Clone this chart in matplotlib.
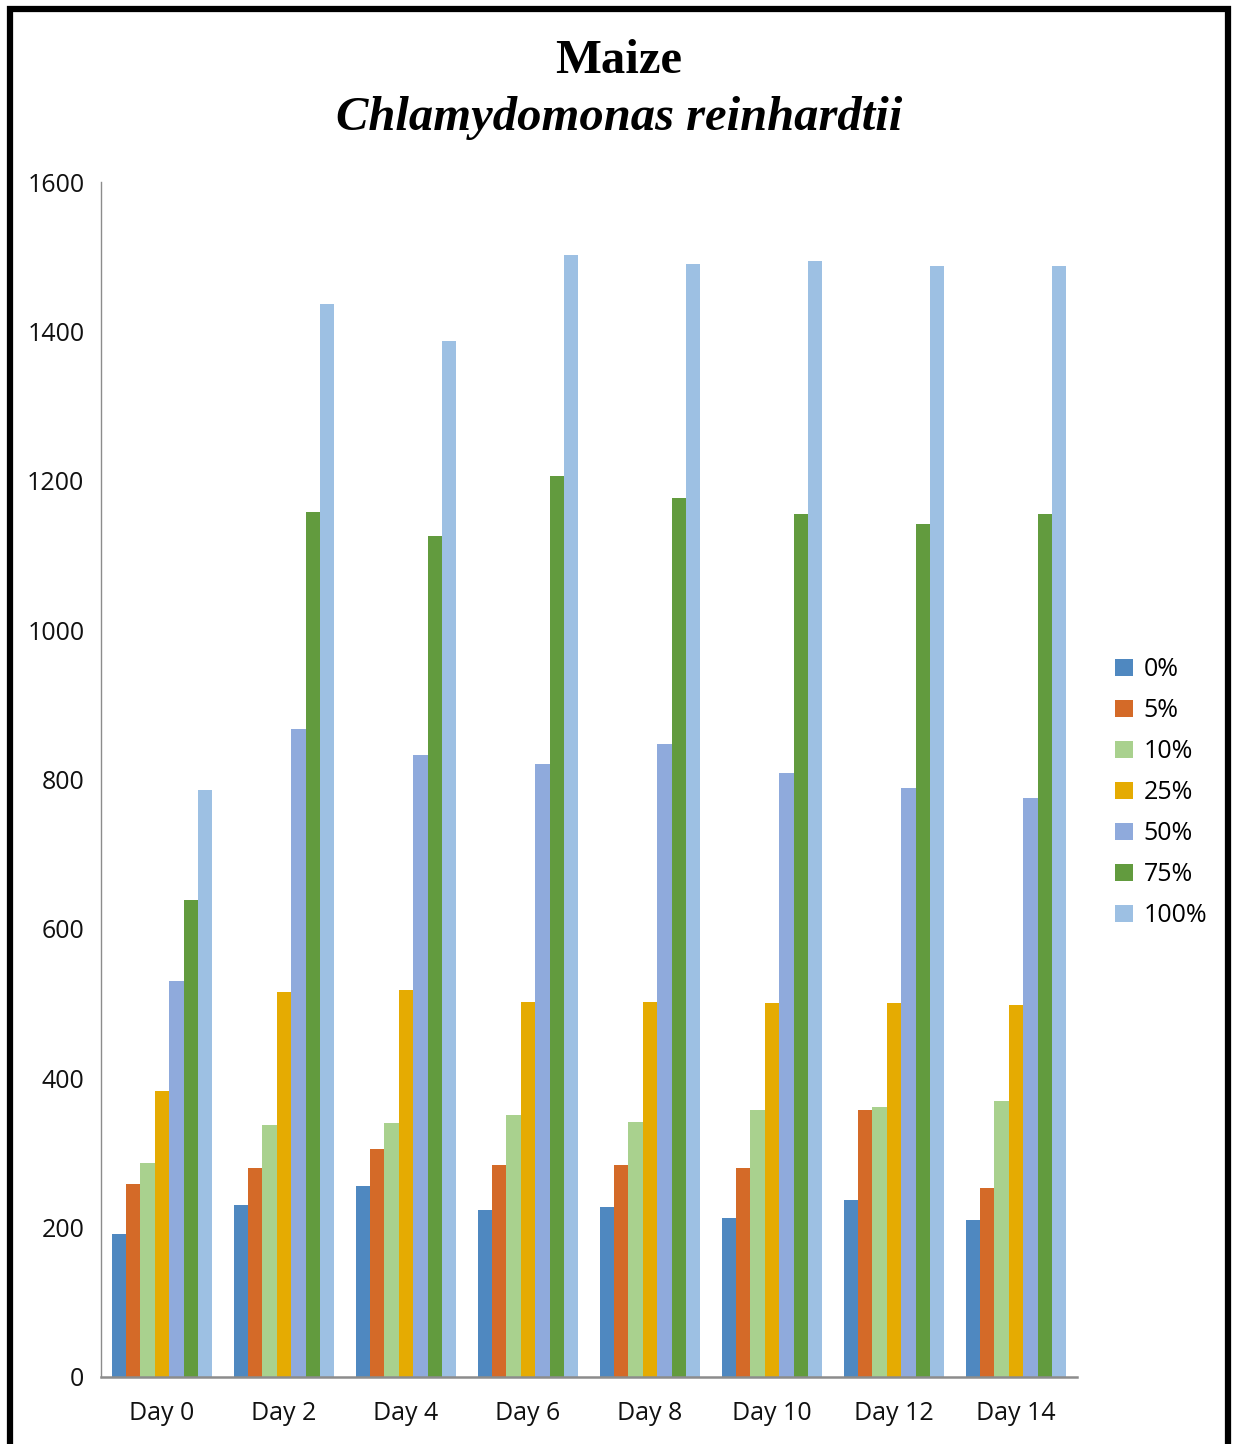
import numpy as np
import matplotlib
matplotlib.use("Agg")
import matplotlib.pyplot as plt
from matplotlib.patches import Rectangle

days = ["Day 0", "Day 2", "Day 4", "Day 6", "Day 8", "Day 10", "Day 12", "Day 14"]
series_names = ["0%", "5%", "10%", "25%", "50%", "75%", "100%"]

v0 = [191, 230, 256, 224, 228, 213, 237, 210]
v5 = [258, 280, 305, 284, 284, 280, 357, 253]
v10 = [286, 337, 340, 351, 341, 357, 361, 370]
v25 = [383, 515, 518, 502, 502, 501, 501, 498]
v50 = [530, 868, 833, 821, 847, 809, 789, 775]
v75 = [639, 1158, 1126, 1206, 1177, 1155, 1142, 1155]
v100 = [786, 1437, 1387, 1502, 1490, 1494, 1487, 1487]
series = [v0, v5, v10, v25, v50, v75, v100]

colors = ["#4f88c0", "#d46a28", "#a9d18e", "#e5ab02", "#8faadc", "#629b3e", "#9dc0e3"]

fig = plt.figure(figsize=(12.33, 14.44), dpi=100)
ax = fig.add_axes([101 / 1233, 1 - 1377 / 1444, (1077 - 101) / 1233, (1377 - 182) / 1444])

x = np.arange(len(days))
width = 0.118
for i, (name, vals, c) in enumerate(zip(series_names, series, colors)):
    ax.bar(x + (i - 3) * width, vals, width, color=c, label=name, linewidth=0)

ax.set_xlim(-0.5, len(days) - 0.5)
ax.set_ylim(0, 1600)
ax.set_yticks(range(0, 1601, 200))
ax.set_xticks(x)
ax.set_xticklabels(days)
for s in ["top", "right"]:
    ax.spines[s].set_visible(False)
for s in ["left", "bottom"]:
    ax.spines[s].set_color("#8c8c8c")
ax.spines["bottom"].set_linewidth(1.8)
ax.spines["left"].set_linewidth(1.0)
ax.tick_params(axis="both", length=0, labelsize=18)
ax.tick_params(axis="x", pad=17)
ax.tick_params(axis="y", pad=12)
for lab in ax.get_xticklabels() + ax.get_yticklabels():
    lab.set_family("Open Sans")
    lab.set_color("#111111")

leg = ax.legend(loc="upper left", bbox_to_anchor=((1115 - 101) / 976, (1377 - 657) / 1195),
                frameon=False, prop={"family": "Open Sans", "size": 18},
                handlelength=0.7, handleheight=0.7, handletextpad=0.45,
                labelspacing=0.64, borderaxespad=0, borderpad=0)

fig.text(0.502, 1 - 61 / 1444, "Maize", ha="center", va="center",
         family="Liberation Serif", weight="bold", fontsize=35)
fig.text(0.502, 1 - 118 / 1444, "Chlamydomonas reinhardtii", ha="center", va="center",
         family="Liberation Serif", weight="bold", style="italic", fontsize=35)

# outer frame
fig.patches.append(Rectangle((10 / 1233, -0.05), (1228 - 10) / 1233, 1.05 - 9 / 1444,
                             transform=fig.transFigure, fill=False, edgecolor="black",
                             linewidth=4.5))

fig.savefig("out.png", dpi=100)
